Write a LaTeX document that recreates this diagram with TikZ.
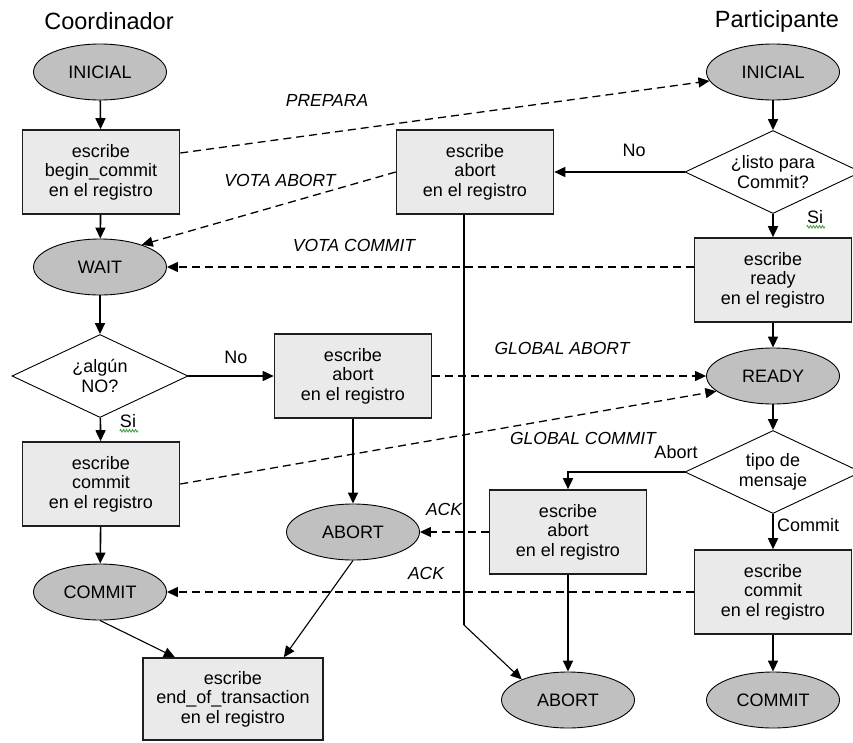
\documentclass[tikz,border=0pt]{standalone}
\usepackage{fontspec}
\setmainfont{Liberation Sans}
\usetikzlibrary{shapes.geometric,arrows.meta,calc,decorations.pathmorphing}

\definecolor{stategray}{HTML}{C0C0C0}
\definecolor{boxfill}{HTML}{EAEAEA}
\definecolor{boxline}{HTML}{1E1E1E}
\definecolor{spellgreen}{HTML}{3CA03C}

\begin{document}
\begin{tikzpicture}[x=1pt,y=-1pt,
  txt/.style={font=\fontsize{18}{19.5}\selectfont},
  title/.style={font=\fontsize{23.5}{26}\selectfont},
  state/.style={txt,ellipse,draw=black,line width=0.9pt,fill=stategray,
    minimum width=133,minimum height=56,inner sep=0},
  logbox/.style={txt,rectangle,draw=boxline,line width=1.6pt,fill=boxfill,
    minimum width=157,minimum height=84,inner sep=0,align=center},
  decision/.style={txt,diamond,draw=black,line width=0.9pt,fill=white,
    minimum width=176,minimum height=83,inner sep=0,aspect=2.1,align=center},
  flow/.style={-{Triangle[length=11pt,width=10pt]},line width=1.6pt},
  thinflow/.style={-{Triangle[length=11pt,width=10pt]},line width=1.1pt},
  msg/.style={-{Triangle[length=11pt,width=10pt]},line width=1.3pt,
    dash pattern=on 8pt off 5pt},
  msglabel/.style={font=\fontsize{17.5}{19.5}\selectfont\itshape,inner sep=0},
  cond/.style={txt,inner sep=0},
  spell/.style={draw=spellgreen,line width=0.8pt,decorate,
    decoration={zigzag,amplitude=1.3pt,segment length=3pt}}
]
\useasboundingbox (0,0) rectangle (853,742);

% column headings
\node[title] (hc) at (109,21) {Coordinador};
\node[title] (hp) at (777,21) {Participante};

% coordinator
\node[state]  (iniC)    at (100,72)  {INICIAL};
\node[logbox] (beginC)  at (101,172) {escribe\\begin\_commit\\en el registro};
\node[state]  (waitC)   at (100,267) {WAIT};
\node[decision] (algun) at (100,376) {¿algún\\NO?};
\node[logbox] (commitC) at (101,484) {escribe\\commit\\en el registro};
\node[state]  (commitS) at (100,592) {COMMIT};
\node[logbox,minimum width=180,minimum height=82] (endt) at (233,699)
  {escribe\\end\_of\_transaction\\en el registro};
\node[logbox] (abortM)  at (353,376) {escribe\\abort\\en el registro};
\node[state]  (abortS)  at (353,532) {ABORT};

% participant
\node[state]  (iniP)    at (773,72)  {INICIAL};
\node[decision] (listo) at (773,172) {¿listo para\\Commit?};
\node[logbox] (abort1)  at (475,172) {escribe\\abort\\en el registro};
\node[logbox] (readyB)  at (773,280) {escribe\\ready\\en el registro};
\node[state]  (readyE)  at (773,376) {READY};
\node[decision] (tipo)  at (773,472) {tipo de\\mensaje};
\node[logbox] (abortL)  at (568,532) {escribe\\abort\\en el registro};
\node[logbox] (commitP) at (773,592) {escribe\\commit\\en el registro};
\node[state]  (abortB)  at (568,700) {ABORT};
\node[state]  (commitPS) at (773,700) {COMMIT};
\coordinate (bendA) at (464,625);

% coordinator flow
\draw[flow] (iniC) -- (beginC);
\draw[flow] (beginC) -- (waitC);
\draw[flow] (waitC) -- (algun);
\draw[flow] (algun) -- (commitC);
\draw[flow] (commitC) -- (commitS);
\draw[flow] (algun.east) -- (abortM.west);
\draw[flow] (abortM) -- (abortS);
\draw[thinflow] (commitS.south) -- ($(endt.north west)!0.18!(endt.north east)$);
\draw[thinflow] (abortS.south) -- ($(endt.north west)!0.78!(endt.north east)$);

% participant flow
\draw[flow] (iniP) -- (listo);
\draw[flow] (listo) -- (readyB);
\draw[flow] (readyB) -- (readyE);
\draw[flow] (readyE) -- (tipo);
\draw[flow] (tipo) -- (commitP);
\draw[flow] (commitP) -- (commitPS);
\draw[flow] (listo.west) -- (abort1.east);
\draw[flow] (tipo.west) -| (abortL.north);
\draw[flow] (abortL) -- (abortB);
\draw[line width=1.6pt] (abort1.south -| bendA) -- (bendA);
\draw[thinflow] (bendA) -- (abortB.156);

% messages
\draw[msg] ($(beginC.east)+(0,-19)$) -- (iniP.188);
\draw[msg] (abort1.west) -- (waitC.28);
\draw[msg] (readyB.west |- waitC.east) -- (waitC.east);
\draw[msg] (abortM.east) -- (readyE.west);
\draw[msg] (commitC.east) -- (readyE.195);
\draw[msg] (abortL.west) -- (abortS.east);
\draw[msg] (commitP.west) -- (commitS.east);

% message labels
\node[msglabel] (lPrep) at (327,100) {PREPARA};
\node[msglabel] (lVA)   at (280,180) {VOTA ABORT};
\node[msglabel] (lVC)   at (354,245) {VOTA COMMIT};
\node[msglabel] (lGA)   at (562,348) {GLOBAL ABORT};
\node[msglabel] (lGC)   at (583,438) {GLOBAL COMMIT};
\node[msglabel] (lAck1) at (444,509) {ACK};
\node[msglabel] (lAck2) at (426,573) {ACK};

% branch labels
\node[cond] (no1) at (236,357) {No};
\node[cond] (no2) at (634,150) {No};
\node[cond] (si1) at (128,421) {Si};
\node[cond] (si2) at (815,217) {Si};
\node[cond] (ab)  at (676,452) {Abort};
\node[cond] (cm)  at (808,525) {Commit};
\draw[spell] ($(si1.south west)+(0,3)$) -- ($(si1.south east)+(2,3)$);
\draw[spell] ($(si2.south west)+(0,3)$) -- ($(si2.south east)+(2,3)$);
\end{tikzpicture}
\end{document}
